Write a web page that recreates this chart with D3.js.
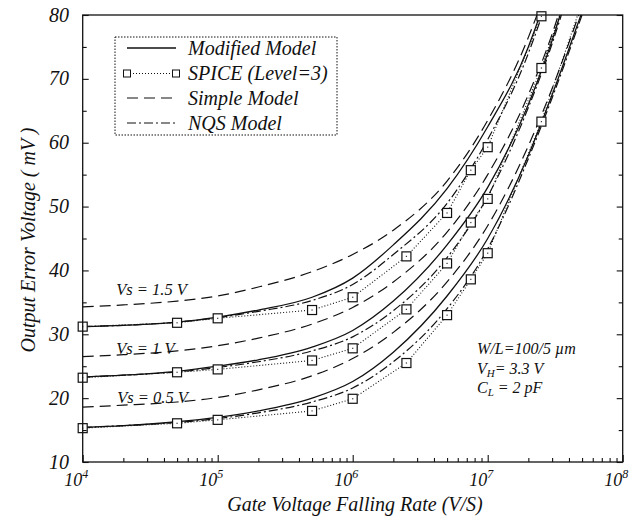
<!DOCTYPE html>
<html>
<head>
<meta charset="utf-8">
<script src="https://cdn.jsdelivr.net/npm/d3@7"></script>
<style>
  html, body { margin: 0; padding: 0; background: #fff; }
  svg { display: block; }
  text { font-family: "Liberation Serif", "DejaVu Serif", serif; font-style: italic; fill: #111; }
</style>
</head>
<body>
<svg id="chart" width="641" height="519"></svg>
<script>
// Rates (V/s) at which the model curves are tabulated
const modelRates = [1e4, 2e4, 5e4, 1e5, 2e5, 5e5, 1e6, 2e6, 5e6, 1e7, 2e7, 3e7, 5e7];

// Modified model (solid)
const modified15 = [31.2, 31.4, 31.9, 32.7, 33.8, 35.8, 38.8, 44.0, 52.8, 62.5, 75.0, 86.0, 105.0];
const modified10 = [23.3, 23.6, 24.2, 25.0, 26.0, 28.0, 30.6, 35.2, 44.0, 53.0, 66.0, 76.0, 92.0];
const modified05 = [15.4, 15.7, 16.3, 17.0, 18.0, 20.0, 22.6, 27.2, 36.0, 45.0, 58.0, 67.5, 80.5];

// Simple model (long dash)
const simple15 = [34.3, 34.6, 35.2, 36.0, 37.4, 39.8, 42.5, 46.3, 54.0, 63.5, 76.5, 87.0, 106.0];
const simple10 = [26.5, 26.8, 27.4, 28.2, 29.4, 31.6, 34.2, 38.2, 46.0, 55.0, 67.5, 77.0, 93.0];
const simple05 = [18.6, 18.9, 19.4, 20.1, 21.3, 23.5, 26.2, 30.3, 38.2, 47.0, 59.5, 68.5, 81.5];

// NQS model (dash-dot)
const nqs15 = [31.2, 31.4, 31.9, 32.6, 33.6, 35.3, 37.8, 42.5, 50.5, 60.5, 74.0, 85.0, 104.0];
const nqs10 = [23.3, 23.6, 24.1, 24.8, 25.7, 27.4, 29.6, 33.7, 42.0, 51.6, 65.5, 75.5, 91.0];
const nqs05 = [15.4, 15.7, 16.2, 16.8, 17.7, 19.4, 21.6, 25.7, 34.0, 43.4, 57.5, 67.0, 80.0];

// SPICE (Level=3) simulation points
const spiceRates = [1e4, 5e4, 1e5, 5e5, 1e6, 2.5e6, 5e6, 7.5e6, 1e7, 2.5e7, 5e7];
const spice15 = [31.2, 31.8, 32.5, 33.8, 35.8, 42.2, 49.0, 55.7, 59.3, 79.8, 110.0];
const spice10 = [23.2, 24.05, 24.5, 25.9, 27.8, 33.9, 41.1, 47.5, 51.2, 71.7, 90.0];
const spice05 = [15.3, 16.06, 16.6, 18.0, 19.9, 25.5, 33.0, 38.6, 42.7, 63.3, 82.0];

// Axis ticks and labels
const decadeTicks = [1e4, 1e5, 1e6, 1e7, 1e8];
const decadeExponents = ["4", "5", "6", "7", "8"];
const yMajorTicks = [10, 20, 30, 40, 50, 60, 70, 80];
const yMinorTicks = [15, 25, 35, 45, 55, 65, 75];

const curveLabels = [
  { text: "Vs = 1.5 V", rate: 1.77e4, v: 36.2 },
  { text: "Vs = 1  V",  rate: 1.77e4, v: 26.9 },
  { text: "Vs = 0.5 V", rate: 1.8e4,  v: 19.2 }
];
// Device conditions: [main, subscript, rest]
const conditions = [
  ["W/L=100/5 \u00b5m", "", ""],
  ["V", "H", "= 3.3 V"],
  ["C", "L", " = 2 pF"]
];

const legendItems = ["Modified Model", "SPICE (Level=3)", "Simple Model", "NQS Model"];

const svg = d3.select("#chart");
const pLeft = 82.7, pRight = 622.7, pTop = 15, pBottom = 462;

const x = d3.scaleLog().domain([1e4, 1e8]).range([pLeft, pRight]);
const y = d3.scaleLinear().domain([10, 80]).range([pBottom, pTop]);

svg.append("defs").append("clipPath").attr("id", "plotClip")
  .append("rect").attr("x", pLeft).attr("y", pTop).attr("width", pRight - pLeft).attr("height", pBottom - pTop);

const styles = {
  solid:   { dash: null,        width: 1.3 },
  dashed:  { dash: "11,6",      width: 1.2 },
  dashdot: { dash: "9,3,2,3",   width: 1.2 },
  dotted:  { dash: "1,2",       width: 1.1 }
};

const plot = svg.append("g").attr("clip-path", "url(#plotClip)");

const smoothLine = d3.line().x(d => x(d[0])).y(d => y(d[1])).curve(d3.curveMonotoneX);
const straightLine = d3.line().x(d => x(d[0])).y(d => y(d[1]));

function drawModel(values, style) {
  const s = styles[style];
  plot.append("path")
    .datum(modelRates.map((r, i) => [r, values[i]]))
    .attr("d", smoothLine)
    .attr("fill", "none")
    .attr("stroke", "#111")
    .attr("stroke-width", s.width)
    .attr("stroke-dasharray", s.dash);
}

[simple15, simple10, simple05].forEach(v => drawModel(v, "dashed"));
[nqs15, nqs10, nqs05].forEach(v => drawModel(v, "dashdot"));
[modified15, modified10, modified05].forEach(v => drawModel(v, "solid"));

// SPICE dotted polylines and square markers
[spice15, spice10, spice05].forEach(values => {
  const pts = spiceRates.map((r, i) => [r, values[i]]);
  plot.append("path").datum(pts).attr("d", straightLine)
    .attr("fill", "none").attr("stroke", "#111")
    .attr("stroke-width", styles.dotted.width)
    .attr("stroke-dasharray", styles.dotted.dash);
  const shown = pts.filter(p => p[1] <= 80);
  svg.selectAll(null).data(shown).enter().append("rect")
    .attr("x", d => x(d[0]) - 4.5).attr("y", d => y(d[1]) - 4.5)
    .attr("width", 9).attr("height", 9)
    .attr("fill", "#fff").attr("stroke", "#111").attr("stroke-width", 1.2);
  svg.selectAll(null).data(shown).enter().append("rect")
    .attr("x", d => x(d[0]) - 0.6).attr("y", d => y(d[1]) - 0.6)
    .attr("width", 1.2).attr("height", 1.2).attr("fill", "#333");
});

// Frame
svg.append("rect").attr("x", pLeft).attr("y", pTop).attr("width", pRight - pLeft).attr("height", pBottom - pTop)
  .attr("fill", "none").attr("stroke", "#111").attr("stroke-width", 1.3);

// Bottom axis: decade ticks and minor ticks pointing inward
const minorX = [];
for (let e = 4; e < 8; e++) for (let m = 2; m <= 9; m++) minorX.push(m * Math.pow(10, e));

svg.append("g").attr("transform", `translate(0,${pBottom})`)
  .call(d3.axisBottom(x).tickValues(decadeTicks).tickSize(-7).tickFormat(""))
  .call(g => g.select(".domain").remove());
svg.append("g").attr("transform", `translate(0,${pBottom})`)
  .call(d3.axisBottom(x).tickValues(minorX).tickSize(-4).tickFormat(""))
  .call(g => g.select(".domain").remove());

// Decade labels 10^n
decadeTicks.forEach((t, i) => {
  svg.append("text").attr("x", x(t) - 0.5).attr("y", 486)
    .attr("text-anchor", "end").attr("font-size", 18).text("10");
  svg.append("text").attr("x", x(t) - 0.5).attr("y", 478)
    .attr("font-size", 12).text(decadeExponents[i]);
});

// Left and right axes
svg.append("g").attr("transform", `translate(${pLeft},0)`)
  .call(d3.axisLeft(y).tickValues(yMajorTicks).tickSize(-6).tickFormat(""))
  .call(g => g.select(".domain").remove());
svg.append("g").attr("transform", `translate(${pLeft},0)`)
  .call(d3.axisLeft(y).tickValues(yMinorTicks).tickSize(-4).tickFormat(""))
  .call(g => g.select(".domain").remove());
svg.append("g").attr("transform", `translate(${pRight},0)`)
  .call(d3.axisRight(y).tickValues(yMajorTicks).tickSize(-6).tickFormat(""))
  .call(g => g.select(".domain").remove());
svg.append("g").attr("transform", `translate(${pRight},0)`)
  .call(d3.axisRight(y).tickValues(yMinorTicks).tickSize(-4).tickFormat(""))
  .call(g => g.select(".domain").remove());
svg.selectAll(".tick line").attr("stroke", "#111").attr("stroke-width", 1.1);

yMajorTicks.forEach(t => {
  svg.append("text").attr("x", 69).attr("y", y(t) + 6.5)
    .attr("text-anchor", "end").attr("font-size", 20).text(t);
});

// Axis titles
svg.append("text").attr("x", 355).attr("y", 511).attr("text-anchor", "middle")
  .attr("font-size", 20).text("Gate Voltage Falling Rate (V/S)");
svg.append("text").attr("transform", "translate(35,240) rotate(-90)").attr("text-anchor", "middle")
  .attr("font-size", 20).text("Output Error Voltage ( mV )");

// Curve family labels
curveLabels.forEach(l => {
  svg.append("text").attr("x", x(l.rate)).attr("y", y(l.v))
    .attr("font-size", 16.5).text(l.text);
});

// Device conditions
conditions.forEach((c, i) => {
  const t = svg.append("text").attr("x", 477).attr("y", 354 + i * 19.5).attr("font-size", 16);
  t.append("tspan").text(c[0]);
  if (c[1]) {
    t.append("tspan").attr("font-size", 11).attr("dy", 3).text(c[1]);
    t.append("tspan").attr("dy", -3).text(c[2]);
  }
});

// Legend
const lg = svg.append("g");
lg.append("rect").attr("x", 115).attr("y", 37).attr("width", 222).attr("height", 98)
  .attr("fill", "#fff").attr("stroke", "#111").attr("stroke-width", 1).attr("stroke-dasharray", "1.5,1.5");
const legendRows = [48, 73.5, 98, 123];
const legendStyles = ["solid", "dotted", "dashed", "dashdot"];
legendItems.forEach((name, i) => {
  const yy = legendRows[i];
  const s = styles[legendStyles[i]];
  lg.append("line").attr("x1", 127).attr("x2", 176).attr("y1", yy).attr("y2", yy)
    .attr("stroke", "#111").attr("stroke-width", s.width).attr("stroke-dasharray", s.dash);
  if (legendStyles[i] === "dotted") {
    [127, 176].forEach(px => {
      lg.append("rect").attr("x", px - 3.5).attr("y", yy - 3.5).attr("width", 7).attr("height", 7)
        .attr("fill", "#fff").attr("stroke", "#111").attr("stroke-width", 1);
    });
  }
  lg.append("text").attr("x", 188).attr("y", yy + 6.5).attr("font-size", 20).text(name);
});
</script>
</body>
</html>
